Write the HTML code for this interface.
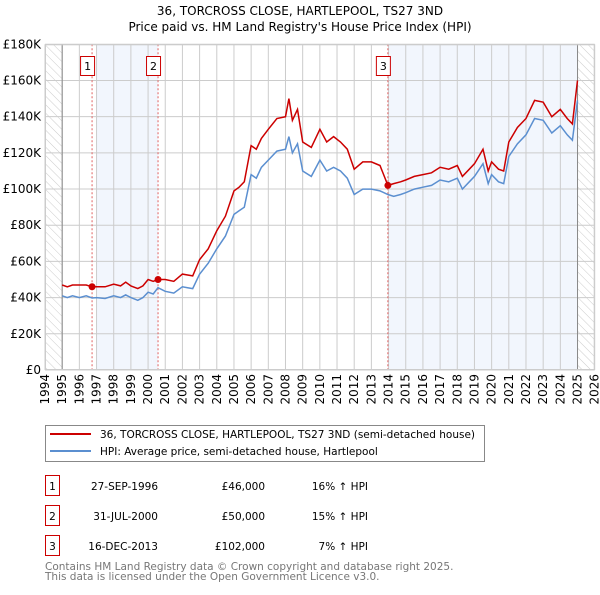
<!DOCTYPE html>
<html><head><meta charset="utf-8"><style>
body{margin:0;background:#fff;}
svg text{font-family:"DejaVu Sans","Liberation Sans",sans-serif;}
</style></head><body>
<svg id="chart" width="600" height="590" viewBox="0 0 600 590" xmlns="http://www.w3.org/2000/svg">
<defs>
<pattern id="hatch" width="6" height="6" patternUnits="userSpaceOnUse" patternTransform="rotate(-45)">
<line x1="0" y1="0" x2="0" y2="6" stroke="#ccc" stroke-width="1"/>
</pattern>
</defs>
<text x="300" y="15" text-anchor="middle" font-size="12">36, TORCROSS CLOSE, HARTLEPOOL, TS27 3ND</text>
<text x="300" y="31" text-anchor="middle" font-size="12">Price paid vs. HM Land Registry's House Price Index (HPI)</text>
<g id="plot"></g>
<g>
<rect x="45.5" y="425.5" width="439" height="36" fill="#fff" stroke="#888"/>
<line x1="50" y1="434" x2="91" y2="434" stroke="#cc0000" stroke-width="2"/>
<text x="100" y="438" font-size="10.5">36, TORCROSS CLOSE, HARTLEPOOL, TS27 3ND (semi-detached house)</text>
<line x1="50" y1="451" x2="91" y2="451" stroke="#5b8fd0" stroke-width="2"/>
<text x="100" y="455" font-size="10.5">HPI: Average price, semi-detached house, Hartlepool</text>
</g>
<g font-size="10.5">
<rect x="45.5" y="475.5" width="14" height="20" fill="#fff" stroke="#cc0000"/><text x="52.5" y="490" text-anchor="middle">1</text>
<text x="158" y="490" text-anchor="end">27-SEP-1996</text><text x="265" y="490" text-anchor="end">£46,000</text><text x="368" y="490" text-anchor="end">16% ↑ HPI</text>
<rect x="45.5" y="505.5" width="14" height="20" fill="#fff" stroke="#cc0000"/><text x="52.5" y="520" text-anchor="middle">2</text>
<text x="158" y="520" text-anchor="end">31-JUL-2000</text><text x="265" y="520" text-anchor="end">£50,000</text><text x="368" y="520" text-anchor="end">15% ↑ HPI</text>
<rect x="45.5" y="535.5" width="14" height="20" fill="#fff" stroke="#cc0000"/><text x="52.5" y="550" text-anchor="middle">3</text>
<text x="158" y="550" text-anchor="end">16-DEC-2013</text><text x="265" y="550" text-anchor="end">£102,000</text><text x="368" y="550" text-anchor="end">7% ↑ HPI</text>
</g>
<text x="45" y="570" font-size="10.5" fill="#777">Contains HM Land Registry data © Crown copyright and database right 2025.</text>
<text x="45" y="580" font-size="10.5" fill="#777">This data is licensed under the Open Government Licence v3.0.</text>
</svg>
<script>
const years = [1995.0,1995.3,1995.6,1996.0,1996.4,1996.74,1997.0,1997.5,1998.0,1998.4,1998.7,1999.0,1999.4,1999.7,2000.0,2000.3,2000.58,2001.0,2001.5,2002.0,2002.3,2002.6,2003.0,2003.5,2004.0,2004.5,2005.0,2005.3,2005.6,2006.0,2006.3,2006.6,2007.0,2007.5,2008.0,2008.2,2008.4,2008.7,2009.0,2009.5,2010.0,2010.4,2010.8,2011.2,2011.6,2012.0,2012.5,2013.0,2013.5,2013.96,2014.3,2014.7,2015.0,2015.5,2016.0,2016.5,2017.0,2017.5,2018.0,2018.3,2018.7,2019.0,2019.5,2019.8,2020.0,2020.4,2020.7,2021.0,2021.5,2022.0,2022.5,2023.0,2023.5,2024.0,2024.4,2024.7,2025.0];
const hpiValues = [41,40,41,40,41,39.8,40,39.5,41,40,41.5,40,38.5,40,43,42,45.5,43.5,42.5,46,45.5,45,53,59,67,74,86,88,90,108,106,112,116,121,122,129,120,125,110,107,116,110,112,110,106,97,100,100,99,97,96,97,98,100,101,102,105,104,106,100,104,107,114,103,108,104,103,118,125,130,139,138,131,135,130,127,149];
const propertyValues = [47,46,47,47,47,46,46,46,47.5,46.5,48.5,46.5,45,46.5,50,49,50,50,49,53,52.5,52,61,67,77,85,99,101,104,124,122,128,133,139,140,150,138,144,126,123,133,126,129,126,122,111,115,115,113,102,103,104,105,107,108,109,112,111,113,107,111,114,122,110,115,111,110,126,134,139,149,148,140,144,139,136,160];
const saleYears = [1996.74, 2000.58, 2013.96];
const salePrices = [46, 50, 102];
const saleLabels = ["1","2","3"];
const yTicks = [0,20,40,60,80,100,120,140,160,180];
const yTickLabels = ["£0","£20K","£40K","£60K","£80K","£100K","£120K","£140K","£160K","£180K"];
const xTicks = [1994,1995,1996,1997,1998,1999,2000,2001,2002,2003,2004,2005,2006,2007,2008,2009,2010,2011,2012,2013,2014,2015,2016,2017,2018,2019,2020,2021,2022,2023,2024,2025,2026];

const L=45,R=594.7,T=44.3,B=370;
const xs = y => L + (y-1994)/(2026-1994)*(R-L);
const ys = v => B - v/180*(B-T);
const NS='http://www.w3.org/2000/svg';
const g=document.getElementById('plot');
function mk(tag,attrs,parent){const e=document.createElementNS(NS,tag);for(const k in attrs)e.setAttribute(k,attrs[k]);(parent||g).appendChild(e);return e;}

let e;
e=mk('rect',{x:L,y:T,width:R-L,height:B-T,fill:'#fff'});


e=mk('rect',{x:xs(1997.0),y:T,width:xs(saleYears[1])-xs(1997.0),height:B-T,fill:'#eef3fc',opacity:0.75});


e=mk('rect',{x:xs(saleYears[2]),y:T,width:xs(2025.0)-xs(saleYears[2]),height:B-T,fill:'#eef3fc',opacity:0.75});


e=mk('rect',{x:L,y:T,width:xs(1995)-L,height:B-T,fill:'url(#hatch)'});


e=mk('rect',{x:xs(2025.0),y:T,width:R-xs(2025.0),height:B-T,fill:'url(#hatch)'});


yTicks.forEach((v,i)=>{
  e=mk('line',{x1:L,x2:R,y1:ys(v),y2:ys(v),stroke:'#ccc','stroke-width':1});
  
  
  e=mk('text',{x:L-4,y:ys(v)+4,'text-anchor':'end','font-size':12});
  e.textContent=yTickLabels[i];
  
  
});
xTicks.forEach(y=>{
  e=mk('line',{x1:xs(y),x2:xs(y),y1:T,y2:B,stroke:'#ccc','stroke-width':1});
  
  
  e=mk('text',{x:0,y:0,'text-anchor':'end','font-size':12,transform:`translate(${xs(y)+4},${B+4}) rotate(-90)`});
  e.textContent=String(y);
  
  
});
e=mk('line',{x1:xs(1995),x2:xs(1995),y1:T,y2:B,stroke:'#888','stroke-width':1});


e=mk('line',{x1:xs(2025),x2:xs(2025),y1:T,y2:B,stroke:'#888','stroke-width':1});


saleYears.forEach((y,i)=>{
  e=mk('line',{x1:xs(y),x2:xs(y),y1:T,y2:B,stroke:'#e06060','stroke-width':1,'stroke-dasharray':'2,2'});
  
  
  e=mk('rect',{x:xs(y)-11.5,y:56.5,width:14,height:19,fill:'#fff',stroke:'#cc0000'});
  
  
  e=mk('text',{x:xs(y)-4.5,y:70,'text-anchor':'middle','font-size':11});
  e.textContent=saleLabels[i];
  
  
});
const pts = vals => vals.map((v,i)=>xs(years[i]).toFixed(1)+','+ys(v).toFixed(1)).join(' ');
e=mk('polyline',{points:pts(hpiValues),fill:'none',stroke:'#5b8fd0','stroke-width':1.5});


e=mk('polyline',{points:pts(propertyValues),fill:'none',stroke:'#cc0000','stroke-width':1.5});


saleYears.forEach((y,i)=>{
  e=mk('circle',{cx:xs(y),cy:ys(salePrices[i]),r:3.5,fill:'#cc0000'});
  
  
});
e=mk('rect',{x:L+0.5,y:T+0.5,width:R-L-1,height:B-T-1,fill:'none',stroke:'#ccc'});


</script>
</body></html>
